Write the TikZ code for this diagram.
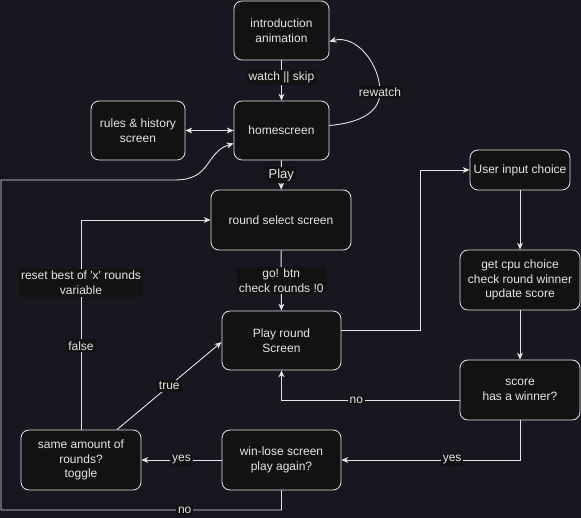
\documentclass[tikz,border=0pt]{standalone}
\usepackage{fontspec}
\setmainfont{Liberation Sans}[Ligatures=TeXOff]
\usetikzlibrary{arrows.meta,calc}
\definecolor{bg}{HTML}{19161F}
\definecolor{boxfill}{HTML}{121212}
\definecolor{ink}{HTML}{E4E4E4}
\begin{document}
\begin{tikzpicture}[x=1pt,y=-1pt,
  >={Stealth[length=7pt,width=6pt]},
  box/.style={draw=ink, fill=boxfill, rounded corners=8pt, line width=0.8pt,
    text=ink, align=center, inner sep=0pt,
    font=\fontsize{12}{14.5}\selectfont},
  flow/.style={draw=ink, line width=0.9pt, ->},
  lbl/.style={fill=boxfill, text=ink, align=center, inner sep=2pt,
    font=\fontsize{12}{14.5}\selectfont}
]
\fill[bg] (0,0) rectangle (581,518);
\useasboundingbox (0,0) rectangle (581,518);

% screens and steps
\node[box, minimum width=95pt, minimum height=59pt] (intro) at (281.5,30.5) {introduction\\animation};
\node[box, minimum width=95pt, minimum height=59pt] (home) at (281.5,130.5) {homescreen};
\node[box, minimum width=94pt, minimum height=59pt] (rules) at (138,130.5) {rules \& history\\screen};
\node[box, minimum width=140pt, minimum height=60pt] (rsel) at (281,220) {round select screen};
\node[box, minimum width=119pt, minimum height=59pt] (play) at (281.5,340.5) {Play round\\Screen};
\node[box, minimum width=100pt, minimum height=40pt] (user) at (520,170) {User input choice};
\node[box, minimum width=120pt, minimum height=60pt] (cpu) at (520,280) {get cpu choice\\check round winner\\update score};
\node[box, minimum width=120pt, minimum height=60pt] (score) at (520,390) {score\\has a winner?};
\node[box, minimum width=119pt, minimum height=60pt] (win) at (281.5,460) {win-lose screen\\play again?};
\node[box, minimum width=120pt, minimum height=60pt] (same) at (81,460) {same amount of\\rounds?\\toggle};

% helper points
\coordinate (rw) at (380,92);
\coordinate (turn) at (420,330);
\coordinate (lowr) at (281.5,510);
\coordinate (lowl) at (1,510);
\coordinate (upl) at (1,180);
\coordinate (upm) at (175,180);

% connectors
\draw[flow] (intro) -- node[lbl, pos=0.42]{watch || skip} (home);
\draw[flow, <->] (rules) -- (home);
\draw[flow] ($(home.east)+(0,-5)$) to[out=5,in=-90] (rw) to[out=90,in=15] ($(intro.east)+(0,11)$);
\node[lbl] at (rw) {rewatch};
\draw[flow] (home) -- node[lbl, font=\fontsize{13}{15}\selectfont]{Play} (rsel);
\draw[flow] (rsel) -- node[lbl]{go! btn\\check rounds !0} (play);
\draw[flow] ($(play.east)+(0,-10.5)$) -- (turn) |- (user.west);
\draw[flow] (user) -- (cpu);
\draw[flow] (cpu) -- (score);
\draw[flow] ($(score.west)+(0,10)$) -| node[lbl, pos=0.29]{no} (play.south);
\draw[flow] (score.south) |- node[lbl, pos=0.69]{yes} (win.east);
\draw[flow] (win) -- node[lbl]{yes} (same);
\draw[flow] (win.south) -- (lowr) -- node[lbl, pos=0.345]{no} (lowl) -- (upl) -- (upm)
  .. controls (212,180) and (205,152) .. ($(home.west)+(0,13)$);
\draw[flow] ($(same.north)+(36,0)$) -- node[lbl]{true} ($(play.west)+(0,1.5)$);
\draw[flow] (same.north) |- node[lbl, pos=0.2]{false} node[lbl, pos=0.35]{reset best of 'x' rounds\\variable} (rsel.west);
\end{tikzpicture}
\end{document}
